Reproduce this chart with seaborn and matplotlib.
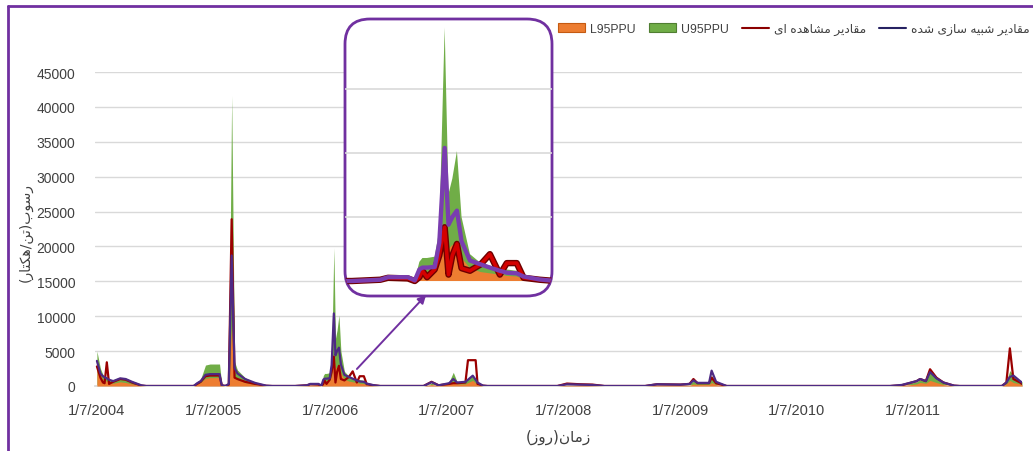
import matplotlib
matplotlib.use('Agg')
import matplotlib.pyplot as plt
import matplotlib.patheffects as pe
from matplotlib.patches import Patch, FancyBboxPatch, FancyArrowPatch
from matplotlib.lines import Line2D
import seaborn as sns
import pandas as pd

# data
dates = ['2004-07-01', '2004-07-12', '2004-07-20', '2004-07-25', '2004-08-01', '2004-08-08',
         '2004-08-21', '2004-09-12', '2004-09-29', '2004-10-19', '2004-11-17', '2004-12-02',
         '2005-04-30', '2005-05-11', '2005-05-22', '2005-06-06', '2005-06-20', '2005-07-20',
         '2005-07-27', '2005-08-07', '2005-08-18', '2005-08-27', '2005-09-05', '2005-09-14',
         '2005-10-08', '2005-11-08', '2005-12-13', '2006-01-01', '2006-03-14', '2006-04-20',
         '2006-04-30', '2006-05-26', '2006-06-04', '2006-06-10', '2006-06-14', '2006-06-20',
         '2006-06-30', '2006-07-06', '2006-07-13', '2006-07-18', '2006-07-23', '2006-07-29',
         '2006-08-04', '2006-08-15', '2006-08-29', '2006-09-10', '2006-09-23', '2006-10-02',
         '2006-10-15', '2006-10-24', '2006-11-14', '2006-12-05', '2007-04-20', '2007-05-15',
         '2007-06-06', '2007-07-09', '2007-07-22', '2007-08-03', '2007-08-29', '2007-09-06',
         '2007-09-21', '2007-09-30', '2007-10-06', '2007-10-23', '2007-11-06', '2008-06-12',
         '2008-07-12', '2008-08-21', '2008-09-30', '2008-11-06', '2009-03-14', '2009-04-20',
         '2009-07-02', '2009-07-31', '2009-08-12', '2009-08-25', '2009-09-30', '2009-10-08',
         '2009-10-22', '2009-11-24', '2011-04-20', '2011-05-26', '2011-07-12', '2011-07-23',
         '2011-08-10', '2011-08-23', '2011-09-12', '2011-10-04', '2011-11-06', '2011-11-24',
         '2012-04-04', '2012-04-18', '2012-04-29', '2012-05-10', '2012-05-31', '2012-06-06']

l95 = [2900, 1500, 900, 800, 700, 500, 400, 600, 500, 300, 50, 0,
       0, 300, 500, 1100, 1200, 1200, 100, 0, 200, 9000, 1300, 900,
       500, 200, 0, 0, 0, 50, 100, 100, 0, 500, 700, 700,
       800, 1500, 4500, 2500, 2800, 2800, 1800, 1000, 700, 600, 500, 400,
       350, 150, 50, 0, 0, 200, 50, 300, 500, 300, 300, 500,
       800, 400, 200, 0, 0, 0, 100, 100, 50, 0, 0, 100,
       100, 100, 300, 200, 200, 500, 200, 0, 0, 50, 300, 500,
       400, 800, 500, 200, 0, 0, 0, 300, 800, 500, 300, 200]

u95 = [5000, 2500, 1600, 1400, 1300, 1000, 800, 1200, 1100, 700, 100, 0,
       0, 600, 1000, 3000, 3150, 3150, 200, 0, 500, 41600, 3500, 2300,
       1200, 500, 50, 0, 0, 80, 200, 200, 50, 1500, 1800, 1800,
       1900, 4000, 19800, 6800, 8000, 10150, 5000, 2100, 1400, 1200, 1000, 900,
       800, 400, 120, 0, 0, 400, 100, 600, 1960, 600, 600, 1000,
       1500, 800, 500, 50, 0, 0, 200, 200, 100, 0, 0, 200,
       200, 300, 700, 400, 400, 1500, 500, 0, 0, 100, 600, 900,
       800, 2500, 1300, 500, 50, 0, 0, 700, 2200, 1600, 800, 600]

observed = [2800, 1200, 500, 400, 3400, 300, 600, 1000, 900, 500, 50, 0,
            0, 300, 600, 1400, 1500, 1500, 100, 0, 200, 23900, 1200, 1000,
            600, 300, 30, 0, 0, 100, 250, 200, 0, 300, 800, 300,
            900, 2000, 4200, 500, 2000, 2900, 1000, 800, 1300, 2100, 500, 1400,
            1400, 250, 100, 0, 0, 600, 100, 300, 400, 400, 500, 3700,
            3700, 3700, 300, 50, 0, 0, 350, 250, 200, 0, 0, 250,
            200, 300, 1000, 400, 400, 1200, 400, 0, 0, 100, 700, 1000,
            700, 2400, 1200, 500, 50, 0, 0, 500, 5400, 1000, 500, 300]

simulated = [3600, 1800, 1400, 1250, 1100, 900, 700, 1100, 1000, 600, 100, 0,
             0, 400, 700, 1600, 1700, 1700, 100, 0, 300, 18700, 2600, 1800,
             1000, 450, 50, 0, 0, 100, 300, 300, 50, 900, 1050, 1050,
             1100, 3000, 10400, 4400, 5000, 5500, 3100, 1600, 1300, 1050, 800, 650,
             600, 350, 120, 0, 0, 550, 100, 400, 1000, 500, 600, 900,
             1480, 900, 500, 50, 0, 0, 250, 200, 150, 0, 0, 250,
             200, 300, 800, 450, 450, 2200, 600, 0, 0, 150, 700, 1000,
             700, 2000, 1100, 500, 50, 0, 0, 500, 1300, 1500, 700, 500]

tick_dates = ['2004-07-01', '2005-07-01', '2006-07-01', '2007-07-01',
              '2008-07-01', '2009-07-01', '2010-07-01', '2011-07-01']
tick_labels = ['1/7/2004', '1/7/2005', '1/7/2006', '1/7/2007',
               '1/7/2008', '1/7/2009', '1/7/2010', '1/7/2011']
y_ticks = [0, 5000, 10000, 15000, 20000, 25000, 30000, 35000, 40000, 45000]

legend_labels = ['L95PPU', 'U95PPU', 'مقادیر مشاهده ای', 'مقادیر شبیه سازی شده']
x_title = 'زمان(روز)'
y_title = 'رسوب(تن/هکتار)'

ORANGE = '#ED7D31'
GREEN = '#70AD47'
DARKRED = '#9B0000'
PURPLE = '#4E2A84'
BORDER = '#7030A0'
GRID = '#D9D9D9'
TXT = '#404040'

# minimal arabic/persian shaping (matplotlib has no bidi support)
AR_FORMS = {  # isolated, final, initial, medial
    'ا': ('\uFE8D', '\uFE8E', None, None),
    'ب': ('\uFE8F', '\uFE90', '\uFE91', '\uFE92'),
    'ت': ('\uFE95', '\uFE96', '\uFE97', '\uFE98'),
    'د': ('\uFEA9', '\uFEAA', None, None),
    'ر': ('\uFEAD', '\uFEAE', None, None),
    'ز': ('\uFEAF', '\uFEB0', None, None),
    'س': ('\uFEB1', '\uFEB2', '\uFEB3', '\uFEB4'),
    'ش': ('\uFEB5', '\uFEB6', '\uFEB7', '\uFEB8'),
    'ق': ('\uFED5', '\uFED6', '\uFED7', '\uFED8'),
    'م': ('\uFEE1', '\uFEE2', '\uFEE3', '\uFEE4'),
    'ن': ('\uFEE5', '\uFEE6', '\uFEE7', '\uFEE8'),
    'ه': ('\uFEE9', '\uFEEA', '\uFEEB', '\uFEEC'),
    'و': ('\uFEED', '\uFEEE', None, None),
    'ی': ('\uFBFC', '\uFBFD', '\uFBFE', '\uFBFF'),
    'ک': ('\uFB8E', '\uFB8F', '\uFB90', '\uFB91'),
}


def shape(text):
    out = []
    for i, ch in enumerate(text):
        if ch not in AR_FORMS:
            out.append(ch)
            continue
        iso, fin, ini, med = AR_FORMS[ch]
        prev = text[i - 1] if i > 0 else ''
        nxt = text[i + 1] if i + 1 < len(text) else ''
        jp = prev in AR_FORMS and AR_FORMS[prev][2] is not None
        jn = ini is not None and nxt in AR_FORMS
        if jp and jn:
            out.append(med)
        elif jp:
            out.append(fin)
        elif jn:
            out.append(ini)
        else:
            out.append(iso)
    mirror = {'(': ')', ')': '('}
    return ''.join(mirror.get(c, c) for c in reversed(out))


sns.set_theme(style='white')
plt.rcParams['font.family'] = ['Liberation Sans', 'DejaVu Sans']

df = pd.DataFrame({'date': pd.to_datetime(dates), 'L95PPU': l95, 'U95PPU': u95,
                   'observed': observed, 'simulated': simulated})


def draw_series(a, lw, inset=False):
    a.fill_between(df['date'], df['U95PPU'], color=GREEN, lw=0, zorder=2)
    a.fill_between(df['date'], df['L95PPU'], color=ORANGE, lw=0, zorder=3)
    if inset:
        sns.lineplot(data=df, x='date', y='observed', ax=a, color='#D40000', lw=lw,
                     estimator=None, zorder=4,
                     path_effects=[pe.Stroke(linewidth=lw + 2, foreground='#6E0000'), pe.Normal()])
        sns.lineplot(data=df, x='date', y='simulated', ax=a, color='#7A3DB0', lw=lw + 0.5,
                     estimator=None, zorder=5)
    else:
        sns.lineplot(data=df, x='date', y='observed', ax=a, color=DARKRED, lw=lw,
                     estimator=None, zorder=4)
        sns.lineplot(data=df, x='date', y='simulated', ax=a, color=PURPLE, lw=lw,
                     estimator=None, zorder=5)


fig = plt.figure(figsize=(10.33, 4.52), dpi=100)
ax = fig.add_axes([95 / 1033, 65 / 452, 927 / 1033, 314 / 452])
draw_series(ax, 1.6)
ax.set_xlim(pd.Timestamp('2004-06-25'), pd.Timestamp('2012-06-06'))
ax.set_ylim(0, 45000)
ax.set_yticks(y_ticks)
ax.set_yticklabels([str(v) for v in y_ticks])
ax.set_xticks(pd.to_datetime(tick_dates))
ax.set_xticklabels(tick_labels)
ax.yaxis.grid(True, color=GRID, lw=1)
ax.xaxis.grid(False)
ax.set_axisbelow(True)
for s in ['top', 'right', 'left']:
    ax.spines[s].set_visible(False)
ax.spines['bottom'].set_color(GRID)
ax.tick_params(axis='y', length=0, pad=14, labelsize=10, labelcolor=TXT)
ax.tick_params(axis='x', length=3, color='#BFBFBF', pad=9, labelsize=10.5, labelcolor=TXT)
ax.set_xlabel('')
ax.set_ylabel('')

fig.text(558 / 1033, 1 - 437 / 452, shape(x_title), ha='center', va='center',
         fontsize=11, color=TXT, family=['DejaVu Sans'])
fig.text(26 / 1033, 1 - 232 / 452, shape(y_title), ha='center', va='center',
         rotation=90, fontsize=10, color=TXT, family=['DejaVu Sans'])

# zoom-in inset of the 2006 event
box = FancyBboxPatch((3.45, 1.55), 2.07, 2.77, boxstyle='round,pad=0,rounding_size=0.25',
                     transform=fig.dpi_scale_trans, fc='white', ec=BORDER, lw=2, zorder=1)
fig.add_artist(box)
ins = fig.add_axes([345 / 1033, 155 / 452, 207 / 1033, 277 / 452], zorder=2)
ins.patch.set_alpha(0)
draw_series(ins, 2.6, inset=True)
ins.set_xlim(pd.Timestamp('2006-03-05'), pd.Timestamp('2006-11-30'))
ins.set_ylim(-1170, 20470)
ins.set_yticks([5000, 10000, 15000])
ins.yaxis.grid(True, color=GRID, lw=1.2)
ins.xaxis.grid(False)
ins.set_axisbelow(True)
ins.tick_params(length=0, labelleft=False, labelbottom=False)
ins.set_xlabel('')
ins.set_ylabel('')
for s in ins.spines.values():
    s.set_visible(False)
for art in ins.collections + ins.lines:
    art.set_clip_path(box)

fig.add_artist(FancyArrowPatch((355 / 1033, 1 - 372 / 452), (428 / 1033, 1 - 294 / 452),
                               transform=fig.transFigure, arrowstyle='-|>', mutation_scale=12,
                               color=BORDER, lw=1.4, zorder=3))

# legend
handles = [Patch(fc=ORANGE, ec='#C55A11', lw=0.8), Patch(fc=GREEN, ec='#507E32', lw=0.8),
           Line2D([], [], color='#8B0000', lw=1.5), Line2D([], [], color='#262262', lw=1.5)]
fig.legend(handles, [shape(t) if t[0] in AR_FORMS else t for t in legend_labels],
           loc='center right', bbox_to_anchor=(1030 / 1033, 1 - 30 / 452), ncol=4, frameon=False,
           handlelength=2.2, handleheight=0.7, columnspacing=1.1, handletextpad=0.4,
           borderaxespad=0, borderpad=0, labelcolor=TXT,
           prop={'family': ['Liberation Sans', 'DejaVu Sans'], 'size': 8.8})

# purple frame (left and top edges)
fig.add_artist(Line2D([8 / 1033, 8 / 1033], [0, 1 - 7 / 452], color=BORDER, lw=2,
                      transform=fig.transFigure))
fig.add_artist(Line2D([8 / 1033, 1], [1 - 7 / 452, 1 - 7 / 452], color=BORDER, lw=2,
                      transform=fig.transFigure))

fig.savefig('out.png', dpi=100)
